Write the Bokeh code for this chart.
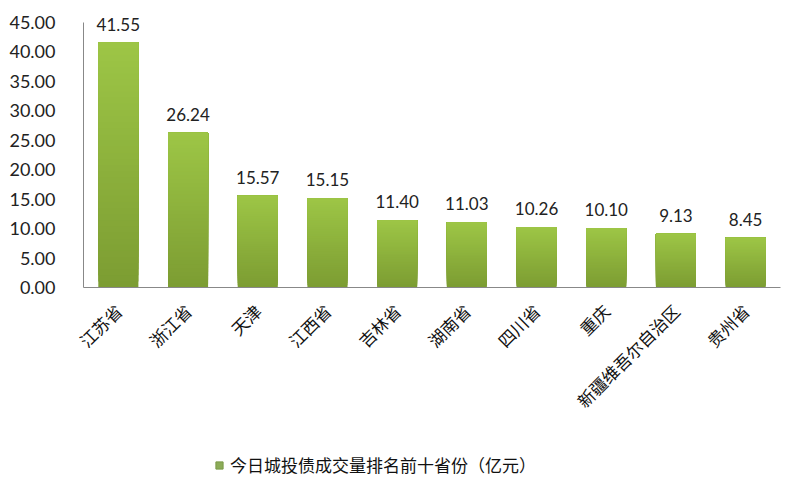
import math
from bokeh.plotting import figure
from bokeh.layouts import column
from bokeh.models import (ColumnDataSource, FactorRange, Range1d, FixedTicker,
                          NumeralTickFormatter, Legend, LegendItem, LabelSet)
from bokeh.core.properties import value
from bokeh.embed import file_html
from bokeh.resources import INLINE

categories = ["江苏省", "浙江省", "天津", "江西省", "吉林省", "湖南省",
              "四川省", "重庆", "新疆维吾尔自治区", "贵州省"]
volumes = [41.55, 26.24, 15.57, 15.15, 11.40, 11.03, 10.26, 10.10, 9.13, 8.45]
y_ticks = [0, 5, 10, 15, 20, 25, 30, 35, 40, 45]
series_name = "今日城投债成交量排名前十省份（亿元）"

top_rgb = (157, 198, 70)
bot_rgb = (124, 156, 50)
N_SEG = 40

p = figure(width=784, height=430, output_backend="svg", toolbar_location=None,
           x_range=FactorRange(*categories, range_padding=0),
           y_range=Range1d(0, 48),
           min_border_left=83, min_border_right=4, min_border_top=4,
           min_border_bottom=143)
p.outline_line_color = None
p.grid.visible = False
p.background_fill_color = "white"
p.border_fill_color = "white"

# gradient bars: overlapping slices of each value, each reaching the bar top
xs, bots, tops, cols = [], [], [], []
for c, v in zip(categories, volumes):
    for i in range(N_SEG):
        f0 = i / N_SEG
        t = (i + 0.5) / N_SEG
        r = round(bot_rgb[0] + (top_rgb[0] - bot_rgb[0]) * t)
        g = round(bot_rgb[1] + (top_rgb[1] - bot_rgb[1]) * t)
        b = round(bot_rgb[2] + (top_rgb[2] - bot_rgb[2]) * t)
        xs.append(c)
        bots.append(v * f0)
        tops.append(v)
        cols.append("#%02x%02x%02x" % (r, g, b))
seg_src = ColumnDataSource(dict(x=xs, bottom=bots, top=tops, color=cols))
p.vbar(x="x", bottom="bottom", top="top", width=0.575, source=seg_src,
       fill_color="color", line_color=None)

lab_src = ColumnDataSource(dict(x=categories, y=volumes,
                                t=["%.2f" % v for v in volumes]))
p.add_layout(LabelSet(x="x", y="y", text="t", source=lab_src,
                      text_align="center", text_baseline="bottom", y_offset=12,
                      text_font=value("Lato"), text_font_size="17px",
                      text_color="#222222"))

p.yaxis.ticker = FixedTicker(ticks=y_ticks)
p.yaxis.bounds = (0, 45)
p.yaxis.formatter = NumeralTickFormatter(format="0.00")
p.yaxis.major_label_text_font = "Lato"
p.yaxis.major_label_text_font_size = "18px"
p.yaxis.major_label_text_color = "#222222"
p.yaxis.major_tick_line_color = None
p.yaxis.minor_tick_line_color = None
p.yaxis.axis_line_color = "#888888"
p.yaxis.major_label_standoff = 22

p.xaxis.major_label_orientation = math.pi / 4
p.xaxis.major_label_text_font = "Noto Sans CJK SC"
p.xaxis.major_label_text_font_size = "17px"
p.xaxis.major_label_text_color = "#111111"
p.xaxis.major_tick_line_color = None
p.xaxis.minor_tick_line_color = None
p.xaxis.axis_line_color = "#888888"
p.xaxis.major_label_standoff = 14

# legend strip below the chart
p2 = figure(width=784, height=54, output_backend="svg", toolbar_location=None,
            x_range=Range1d(0, 1), y_range=Range1d(0, 1),
            x_axis_location=None, y_axis_location=None,
            min_border_left=0, min_border_right=0, min_border_top=0,
            min_border_bottom=0)
p2.outline_line_color = None
p2.grid.visible = False
p2.border_fill_color = "white"
sw = p2.scatter(x=[-10], y=[-10], marker="square", size=9,
                fill_color="#8cac58", line_color="#7a9a48")
legend = Legend(items=[LegendItem(label=series_name, renderers=[sw])],
                location=(127, 7), orientation="horizontal",
                label_text_font="Noto Sans CJK SC",
                label_text_font_size="17px", label_text_color="#111111",
                glyph_width=18, glyph_height=18, label_standoff=2,
                border_line_color=None, background_fill_alpha=0,
                padding=0, margin=0)
p2.add_layout(legend, "center")

layout = column(p, p2, spacing=0)
open("out.html", "w").write(file_html(layout, INLINE))
